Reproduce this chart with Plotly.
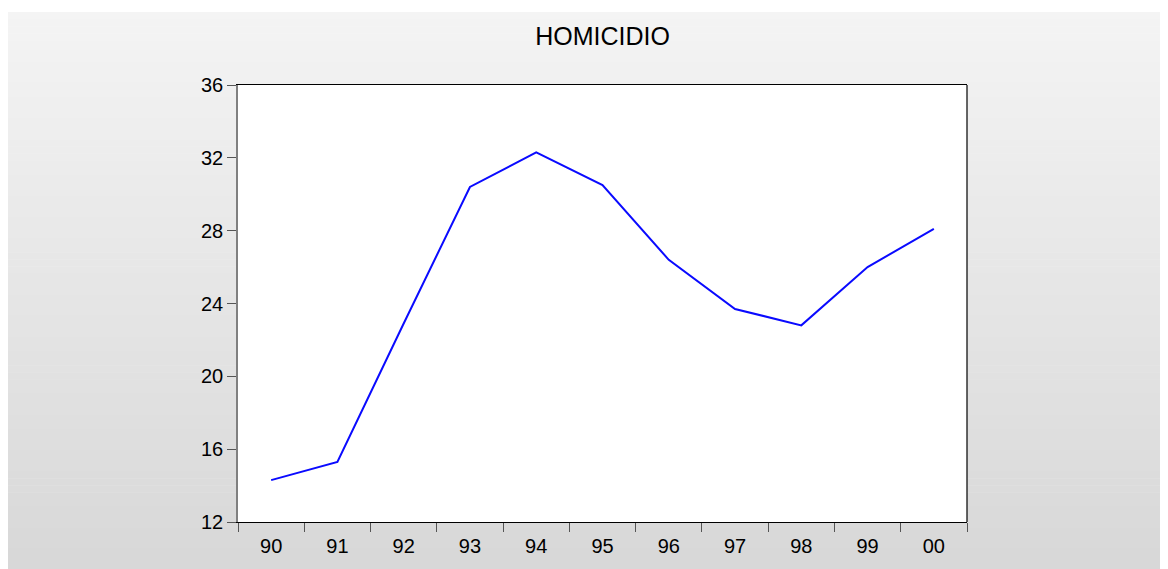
import plotly.graph_objects as go

years = ["90", "91", "92", "93", "94", "95", "96", "97", "98", "99", "00"]
homicidio = [14.3, 15.3, 22.9, 30.4, 32.3, 30.5, 26.4, 23.7, 22.8, 26.0, 28.1]
y_ticks = [12, 16, 20, 24, 28, 32, 36]

# page is rendered with an 8px body offset
OFF = 8
W, H = 1168, 569
L, T = 238 - OFF, 85 - OFF
R = W - (967 - OFF)
B = H - (522 - OFF)
pw, ph = W - L - R, H - T - B

def px_to_paper_x(px):
    return (px - OFF - L) / pw

def py_to_paper_y(py):
    return (H - B - (py - OFF)) / ph

fig = go.Figure()
fig.add_trace(go.Scatter(x=years, y=homicidio, mode="lines",
                         line=dict(color="#0a0aff", width=2), hoverinfo="x+y"))

shapes = []
# gradient background (page coordinates)
top_px, bot_px = 12, H + OFF
n = 80
c_top, c_bot = 244, 215
for i in range(n):
    y0 = top_px + (bot_px - top_px) * i / n
    y1 = top_px + (bot_px - top_px) * (i + 1) / n + 0.6
    c = round(c_top + (c_bot - c_top) * (i + 0.5) / n)
    shapes.append(dict(type="rect", xref="paper", yref="paper", layer="below",
                       x0=px_to_paper_x(0), x1=px_to_paper_x(W + 20),
                       y0=py_to_paper_y(min(y1, bot_px)), y1=py_to_paper_y(y0),
                       line=dict(width=0), fillcolor=f"rgb({c},{c},{c})"))
# white plot area
shapes.append(dict(type="rect", xref="paper", yref="paper", layer="below",
                   x0=0, x1=1, y0=0, y1=1, line=dict(width=0), fillcolor="white"))
# right border
shapes.append(dict(type="line", xref="paper", yref="paper", layer="above",
                   x0=1, x1=1, y0=0, y1=1, line=dict(color="black", width=1.2)))

fig.update_layout(
    width=W, height=H,
    margin=dict(l=L, r=R, t=T, b=B),
    paper_bgcolor="white",
    plot_bgcolor="white",
    showlegend=False,
    shapes=shapes,
    font=dict(family="Liberation Sans, Arial, sans-serif", color="black"),
    title=dict(text="HOMICIDIO", x=0.5, xref="paper", xanchor="center",
               y=1 - (36 - OFF) / H, yanchor="middle",
               font=dict(size=25, color="black")),
    xaxis=dict(type="category", tickson="boundaries", ticks="outside",
               ticklen=9, tickcolor="#555555", tickwidth=1.3,
               ticklabelstandoff=6,
               showline=True, linecolor="black", linewidth=1.2, mirror=True,
               showgrid=False, zeroline=False,
               tickfont=dict(size=20), range=[-0.5, 10.5]),
    yaxis=dict(range=[12, 36], tickvals=y_ticks, ticks="outside",
               ticklen=9, tickcolor="#555555", tickwidth=1.3,
               showline=True, linecolor="#808080", linewidth=1.6, mirror=False,
               showgrid=False, zeroline=False, tickfont=dict(size=20)),
)

fig.write_html("out.html")
